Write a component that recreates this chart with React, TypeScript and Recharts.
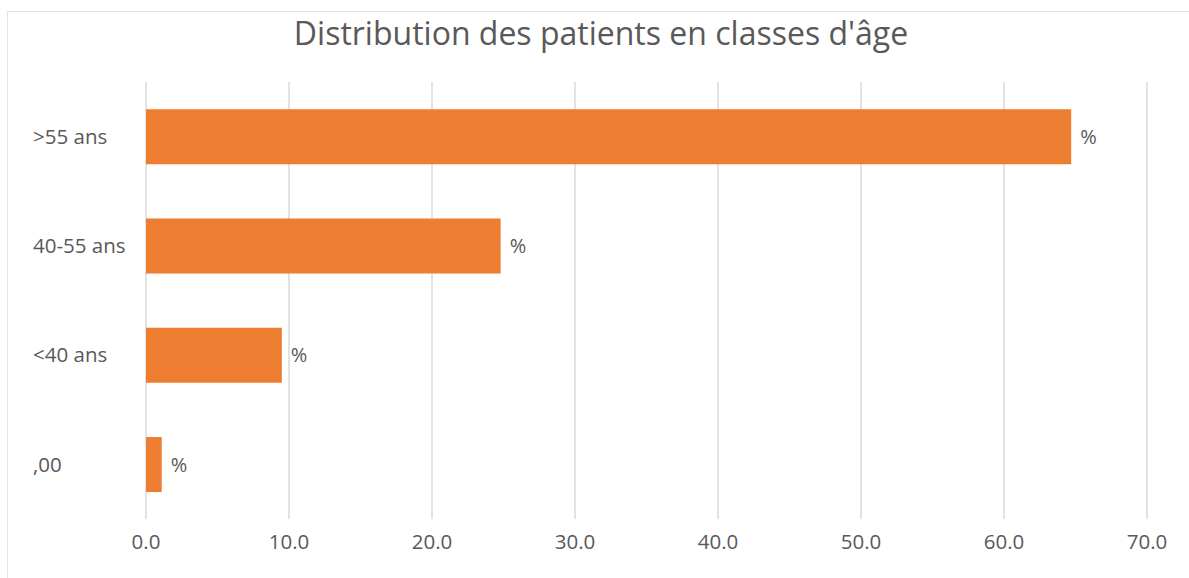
import { BarChart, Bar, XAxis, YAxis, CartesianGrid, LabelList } from 'recharts';

const ageClasses = ['>55 ans', '40-55 ans', '<40 ans', ',00'];
const patientShare = [64.7, 24.8, 9.5, 1.1];
const valueLabels = ['%', '%', '%', '%'];
const xTicks = [0, 10, 20, 30, 40, 50, 60, 70];

const data = ageClasses.map((name, i) => ({
  name,
  value: patientShare[i],
  label: valueLabels[i],
}));

const TEXT = '#595959';
const FONT = '"Open Sans", "Noto Sans", sans-serif';

function CategoryTick(props: any) {
  const { y, payload } = props;
  return (
    <text x={33} y={y} dy="0.35em" textAnchor="start" fill={TEXT} fontSize={20.5} fontFamily={FONT}>
      {payload.value}
    </text>
  );
}

function ValueTick(props: any) {
  const { x, y, payload } = props;
  return (
    <text x={x} y={y} dy={22} textAnchor="middle" fill={TEXT} fontSize={20.5} fontFamily={FONT}>
      {Number(payload.value).toFixed(1)}
    </text>
  );
}

export default function App() {
  return (
    <div style={{ position: 'fixed', left: 0, top: 0, width: 1189, height: 578, background: '#fff', overflow: 'hidden' }}>
      <div
        style={{
          position: 'absolute',
          left: 7,
          top: 11,
          width: 1240,
          height: 640,
          border: '1.5px solid #e3e3e3',
          boxSizing: 'border-box',
        }}
      />
      <div
        style={{
          position: 'absolute',
          left: 0,
          top: 12,
          width: 1202,
          textAlign: 'center',
          fontFamily: FONT,
          fontSize: 32,
          color: TEXT,
          lineHeight: '42px',
        }}
      >
        Distribution des patients en classes d'âge
      </div>
      <div style={{ position: 'absolute', left: 0, top: 0 }}>
        <BarChart
          width={1189}
          height={578}
          data={data}
          layout="vertical"
          margin={{ top: 82, right: 42, bottom: 19, left: 0 }}
          barCategoryGap="25%"
        >
          <CartesianGrid horizontal={false} stroke="#d9d9d9" strokeWidth={1.5} />
          <XAxis
            type="number"
            domain={[0, 70]}
            ticks={xTicks}
            axisLine={false}
            tickLine={false}
            height={40}
            tick={<ValueTick />}
          />
          <YAxis
            type="category"
            dataKey="name"
            width={146}
            axisLine={false}
            tickLine={false}
            tick={<CategoryTick />}
          />
          <Bar dataKey="value" fill="#ED7D31" isAnimationActive={false}>
            <LabelList
              dataKey="label"
              position="right"
              offset={9}
              style={{ fontSize: 20, fill: TEXT, fontFamily: FONT }}
            />
          </Bar>
        </BarChart>
      </div>
    </div>
  );
}
